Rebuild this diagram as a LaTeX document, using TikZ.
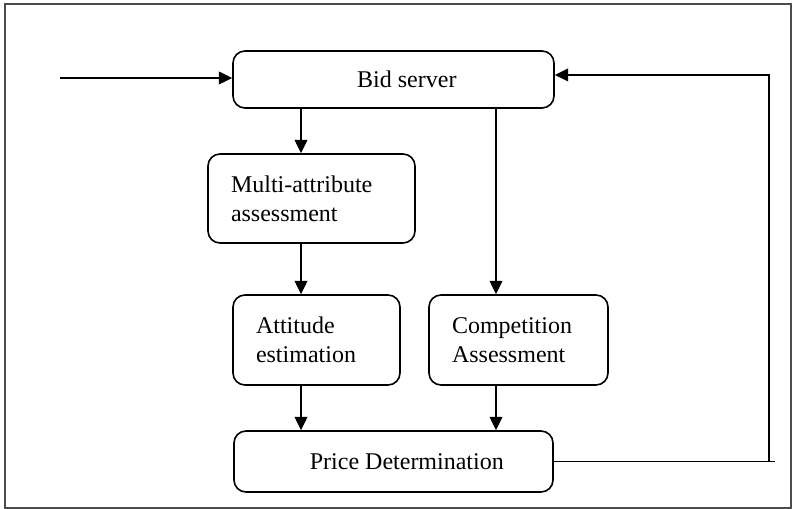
\documentclass[tikz,border=0pt]{standalone}
\usepackage{fontspec}
\setmainfont{Liberation Serif}
\usetikzlibrary{positioning,arrows.meta}

\begin{document}
\begin{tikzpicture}[x=0.75pt,y=-0.75pt,line width=1.2pt,>={Triangle[length=10pt,width=9.5pt]}]
      \tikzstyle{box}=[draw,rounded corners=9pt,align=left,inner xsep=17.25pt,font=\fontsize{18}{22}\selectfont]
      \useasboundingbox (0,0) rectangle (792,509);
      \draw[black!70] (5,4) rectangle (791,508);
      % boxes
      \node[box,align=center,minimum width=240.75pt,minimum height=42.75pt] (bid) at (393.5,79.5) {\hspace*{20pt}Bid server};
      \node[box,text width=120.75pt,minimum height=66.75pt] (multi) at (311.5,198.5) {Multi-attribute\\assessment};
      \node[box,text width=90.75pt,minimum height=67.5pt] (att) at (316.5,340) {Attitude\\estimation};
      \node[box,text width=99.75pt,minimum height=67.5pt] (comp) at (518.5,340) {Competition\\Assessment};
      \node[box,align=center,minimum width=239.25pt,minimum height=45.75pt] (price) at (393.5,461.5) {\hspace*{20pt}Price Determination};
      % guide points for the arrows
      \coordinate (in) at (60,78);
      \coordinate (lx) at (301,0);
      \coordinate (rx) at (496,0);
      \coordinate (loop) at (769,0);
      \draw[->] (in) -- (bid.west |- in);
      \draw[->] (bid.south -| lx) -- (multi.north -| lx);
      \draw[->] (multi.south -| lx) -- (att.north -| lx);
      \draw[->] (att.south -| lx) -- (price.north -| lx);
      \draw[->] (bid.south -| rx) -- (comp.north -| rx);
      \draw[->] (comp.south -| rx) -- (price.north -| rx);
      \draw (price.east) -- ([xshift=4.5pt]price.east -| loop);
      \draw[->] (price.east -| loop) -- ([yshift=3.4pt]loop |- bid.east) -- ([yshift=3.4pt]bid.east);
    \end{tikzpicture}
\end{document}
